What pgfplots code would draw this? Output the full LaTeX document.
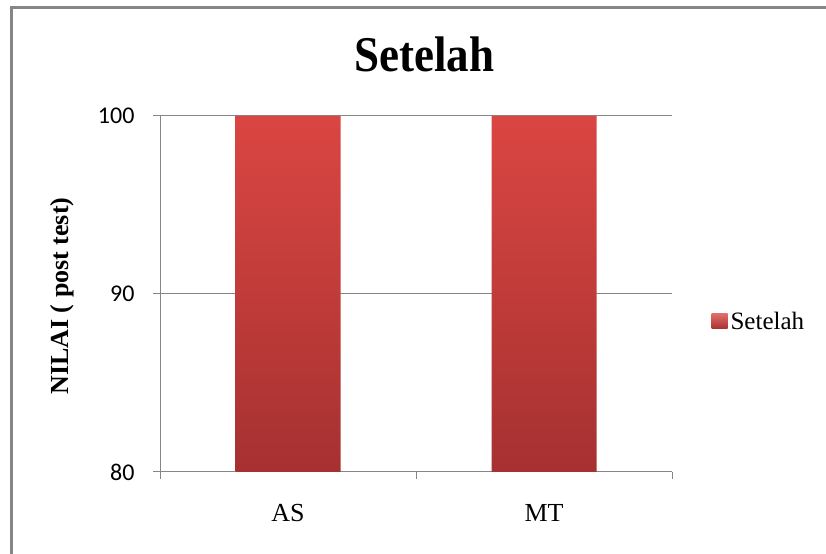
\documentclass[border=0pt]{standalone}
\usepackage{pgfplots}
\pgfplotsset{compat=1.18}
\usepackage{fontspec}
\setmainfont{Liberation Serif}
\newfontfamily\calib{Carlito}

\definecolor{framegray}{RGB}{134,134,134}
\definecolor{gridgray}{RGB}{134,134,134}
\definecolor{bartop}{RGB}{218,70,66}
\definecolor{barbot}{RGB}{166,49,49}

\pgfplotstableread{
idx label value
0   AS    100
1   MT    100
}\setelahdata

\begin{document}
\begin{tikzpicture}[x=1bp,y=1bp]
\path[use as bounding box] (0,0) rectangle (826,554);
% chart frame
\draw[framegray, line width=2.5bp] (11.5,-5) -- (11.5,546.5) -- (835,546.5);
% chart title
\node[anchor=base, font=\fontsize{50bp}{56bp}\selectfont\bfseries] at (424.5,482.3) {\scalebox{0.9}[1]{Setelah}};
\begin{axis}[
  at={(160bp,82bp)}, anchor=south west,
  scale only axis, width=512bp, height=356bp,
  xmin=-0.5, xmax=1.5, ymin=80, ymax=100,
  axis lines*=left,
  axis line style={gridgray, line width=1bp},
  xtick={-0.5,0.5,1.5}, x tick label as interval,
  xticklabels={AS,MT},
  ytick={80,90,100},
  tick align=outside, major tick length=7bp,
  tick style={gridgray, line width=1bp},
  ymajorgrids, grid style={gridgray, line width=1bp},
  /pgf/number format/assume math mode=true,
  yticklabel style={font=\calib\fontsize{24bp}{28bp}\selectfont, xshift=-15bp},
  xticklabel style={font=\fontsize{26bp}{30bp}\selectfont, yshift=-22bp},
  ylabel={NILAI ( post test)},
  ylabel style={font=\fontsize{26bp}{30bp}\selectfont\bfseries, at={(axis description cs:-0.19,0.494)}, anchor=center},
  legend style={at={(axis description cs:1.071,0.423)}, anchor=west, draw=none, fill=none,
    font=\fontsize{25bp}{30bp}\selectfont, nodes={inner xsep=3bp}},
  legend image code/.code={\shade[top color=bartop!80!white, bottom color=barbot] (0bp,-7.5bp) rectangle (16bp,7.5bp);},
  clip=true,
]
\addplot[ybar, bar width=105bp, bar shift=0pt, draw=none,
  top color=bartop, bottom color=barbot]
  table[x=idx, y=value] {\setelahdata};
\addlegendentry{Setelah}
\end{axis}
\end{tikzpicture}
\end{document}
